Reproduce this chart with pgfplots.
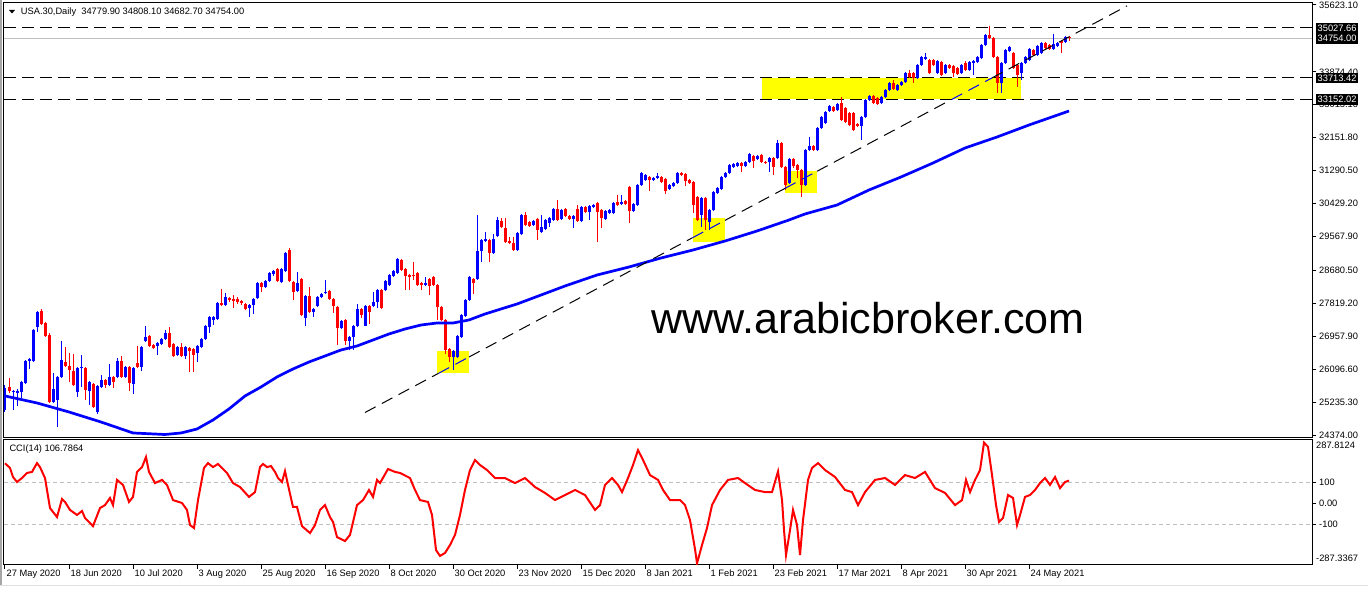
\documentclass[border=0pt]{standalone}
\usepackage{pgfplots}
\pgfplotsset{compat=1.18}
\usepackage{pgfplotstable}
\usepackage{fontspec}
\setmainfont{Liberation Sans}
\definecolor{mtblue}{RGB}{0,0,255}
\definecolor{mtred}{RGB}{255,0,0}
\definecolor{mtyellow}{RGB}{255,255,0}
\definecolor{bidgray}{RGB}{192,192,192}
\newcommand{\mtfont}{\fontsize{9.3}{11}\selectfont}

% daily candles: bar index, open, high, low, close
\pgfplotstableread{
i o h l c
0 25028 25682 24976 25604
1 25630 25866 25473 25526
2 25499 25552 25028 25526
3 25473 25578 25133 25526
4 25499 25787 25342 25761
5 25735 26336 25709 26310
6 26310 26389 26101 26362
7 26310 27147 26284 27121
8 27200 27618 27069 27592
9 27618 27670 27252 27278
10 27304 27330 26938 26964
11 26990 27043 25212 25238
12 25238 25996 25212 25578
13 25290 25918 24584 25892
14 25892 26833 25866 26336
15 26284 26676 26153 26179
16 26179 26519 25761 26075
17 26049 26493 25656 25682
18 25499 26153 25369 26127
19 26127 26467 25630 26153
20 26127 26153 25290 25552
21 25526 25787 25159 25761
22 25709 25735 25081 25107
23 24976 25682 24924 25656
24 25630 25944 25604 25813
25 25813 25839 25604 25682
26 25682 26232 25656 25892
27 25892 25918 25604 25761
28 25892 26389 25866 26310
29 26310 26441 25866 25892
30 25892 26179 25866 26153
31 26153 26179 25526 25735
32 25709 26153 25447 26127
33 26258 26703 26127 26153
34 26153 26703 26049 26676
35 26833 27226 26807 26938
36 26964 26990 26676 26703
37 26729 26755 26624 26650
38 26703 26807 26467 26781
39 26755 26912 26729 26886
40 26886 27121 26860 27043
41 27043 27200 26650 26676
42 26755 26781 26415 26441
43 26467 26703 26441 26676
44 26676 26781 26415 26441
45 26441 26703 26362 26676
46 26650 26676 26022 26572
47 26624 26650 26022 26467
48 26519 26729 26284 26703
49 26676 26912 26650 26886
50 26886 27252 26860 27226
51 27200 27487 27043 27461
52 27383 27487 27252 27461
53 27409 27854 27383 27827
54 27827 28194 27749 27775
55 27775 28089 27749 27984
56 27958 27984 27854 27906
57 27932 28037 27697 27880
58 27932 27984 27801 27854
59 27880 27906 27775 27827
60 27801 27827 27644 27670
61 27697 27801 27461 27775
62 27775 27958 27540 27932
63 27958 28377 27932 28351
64 28351 28377 28115 28246
65 28246 28429 28220 28403
66 28403 28638 28377 28612
67 28586 28691 28534 28665
68 28717 28743 28377 28403
69 28377 28743 28351 28717
70 28665 29162 28638 29135
71 29214 29266 28377 28403
72 28377 28403 27906 28115
73 28141 28638 28115 28351
74 28455 28481 27487 27514
75 27435 28037 27226 28011
76 28011 28246 27566 27592
77 27592 27697 27461 27670
78 27749 28011 27723 27984
79 27984 28089 27958 28063
80 28089 28429 28063 28115
81 28141 28168 27906 27932
82 27932 27958 27566 27749
83 27723 27749 26729 27173
84 27173 27383 27147 27357
85 27383 27409 26729 26833
86 26833 26964 26598 26938
87 26938 27252 26598 27226
88 27226 27801 27200 27670
89 27670 27697 27435 27514
90 27226 27775 27226 27749
91 27749 27775 27278 27592
92 27749 28115 27723 27854
93 27854 28194 27697 28168
94 28168 28194 27670 27697
95 28168 28429 28141 28403
96 28298 28586 28272 28560
97 28534 28691 28508 28665
98 28612 29005 28586 28978
99 28952 28978 28665 28691
100 28717 28743 28168 28534
101 28560 28586 28168 28508
102 28560 28900 28429 28534
103 28612 28638 28272 28298
104 28351 28377 28168 28298
105 28298 28508 28272 28351
106 28455 28481 28037 28272
107 28508 28534 28272 28298
108 28298 28324 27383 27723
109 27723 27749 27357 27383
110 27383 27409 26493 26598
111 26624 26650 26284 26415
112 26415 26598 26075 26572
113 26415 26990 26389 26964
114 26938 27540 26912 27514
115 27487 27932 27461 27906
116 27906 28534 27880 28508
117 28455 28481 28063 28351
118 28455 30130 28429 29188
119 29188 29502 28900 29476
120 29449 29685 29423 29502
121 29476 29502 28900 29135
122 29135 29633 29109 29502
123 29580 30077 29554 29999
124 29973 30051 29789 29816
125 29789 30051 29397 29423
126 29449 29554 29371 29397
127 29397 29554 29188 29214
128 29214 29685 29188 29659
129 29633 30156 29606 30130
130 30130 30208 29842 29868
131 29946 29973 29816 29842
132 29868 29999 29842 29973
133 30025 30051 29476 29737
134 29685 30130 29659 29816
135 29763 30025 29737 29999
136 29920 30077 29816 30051
137 29999 30313 29973 30287
138 30287 30522 29973 29999
139 30025 30287 29999 30260
140 30287 30313 30077 30103
141 30103 30130 29999 30025
142 30025 30130 29789 30103
143 30287 30391 29946 29973
144 29973 30365 29946 30339
145 30339 30365 30182 30208
146 30208 30391 29999 30365
147 30339 30417 30313 30391
148 30443 30470 29423 30208
149 30260 30287 29789 30051
150 30025 30260 29999 30234
151 30182 30287 30156 30260
152 30182 30470 30156 30443
153 30470 30653 30365 30391
154 30417 30653 30391 30470
155 30496 30522 30391 30417
156 30862 30888 29920 30234
157 30234 30443 30208 30417
158 30391 30941 30365 30914
159 30914 31255 30888 31228
160 31045 31202 31019 31176
161 31124 31150 30757 31045
162 31045 31124 31019 31098
163 31098 31228 31071 31150
164 31124 31150 30967 30993
165 31071 31098 30679 30757
166 30810 30941 30784 30914
167 30888 30993 30862 30967
168 30967 31255 30941 31228
169 31228 31255 31150 31176
170 31202 31228 30888 31019
171 31045 31071 30941 30967
172 30993 31019 30182 30391
173 30600 30627 29973 29999
174 30130 30600 29816 30574
175 30574 30600 29737 29999
176 29946 30287 29737 30260
177 30260 30757 30234 30731
178 30705 30862 30679 30836
179 30810 31150 30784 31124
180 31124 31255 31098 31228
181 31228 31464 31202 31438
182 31385 31490 31359 31464
183 31411 31516 31385 31490
184 31490 31516 31255 31411
185 31411 31542 31385 31516
186 31516 31752 31490 31725
187 31673 31699 31359 31542
188 31595 31699 31568 31673
189 31699 31725 31490 31516
190 31516 31542 31464 31490
191 31516 31647 31255 31621
192 31621 31647 31176 31385
193 31621 32092 31595 32013
194 32013 32039 31359 31385
195 31385 31411 30784 30914
196 30967 31621 30941 31595
197 31595 31621 31359 31411
198 31438 31464 31098 31307
199 31307 31333 30600 30914
200 30914 31856 30888 31830
201 31830 32170 31804 31935
202 31935 31961 31804 31830
203 31830 32432 31804 32406
204 32406 32719 32379 32693
205 32536 32850 32510 32824
206 32850 33007 32824 32981
207 32955 32981 32824 32850
208 32876 33059 32850 33033
209 33059 33216 32589 32615
210 32929 32955 32536 32562
211 32798 32824 32458 32484
212 32798 32824 32327 32353
213 32510 32536 32432 32458
214 32458 32719 32092 32693
215 32693 33164 32667 33138
216 33138 33269 33112 33243
217 33243 33269 33033 33059
218 33190 33216 33007 33033
219 33059 33243 33033 33216
220 33216 33426 33190 33400
221 33400 33609 33373 33583
222 33583 33661 33400 33426
223 33400 33557 33373 33530
224 33530 33635 33504 33609
225 33609 33870 33583 33844
226 33844 33923 33714 33740
227 33844 33870 33583 33714
228 33714 34080 33687 34054
229 34054 34289 34027 34263
230 34211 34368 34184 34263
231 34184 34211 33818 33844
232 34184 34211 34027 34054
233 33844 34184 33818 34158
234 34132 34158 33766 33792
235 33844 34080 33818 34054
236 34054 34080 33949 33975
237 34027 34054 33740 33844
238 33975 34001 33792 33818
239 33844 34080 33818 34054
240 34106 34158 33897 33923
241 33923 34158 33897 34132
242 34106 34184 33792 34158
243 34132 34289 34106 34263
244 34237 34603 34211 34577
245 34577 34865 34551 34838
246 34838 35080 34734 34760
247 34760 34786 34237 34263
248 34263 34289 33321 33583
249 33583 34132 33321 34106
250 34106 34472 34080 34446
251 34420 34551 34394 34525
252 34368 34394 33949 33975
253 34054 34080 33478 33792
254 33844 34132 33661 34106
255 34106 34289 34080 34263
256 34184 34498 34158 34472
257 34446 34472 34289 34315
258 34315 34577 34289 34551
259 34368 34655 34341 34629
260 34629 34655 34472 34498
261 34577 34603 34446 34472
262 34472 34865 34446 34603
263 34551 34655 34525 34629
264 34681 34708 34368 34629
265 34655 34812 34629 34786
266 34779.9 34808.1 34682.7 34754
}\candles

\pgfplotsset{
  candle/.style={draw=none, mark=none, forget plot},
}

\begin{document}
\begin{tikzpicture}[x=1pt,y=1pt]
\path[use as bounding box] (0,0) rectangle (1368,-596);
\fill[white] (0,0) rectangle (1368,-596);
\draw[gray!70, line width=1.5pt] (1,0) -- (1,-585);
\draw[gray!25, line width=1pt] (0,-585.5) -- (1368,-585.5);

% price panel
\begin{axis}[
  at={(4pt,-3pt)}, anchor=north west,
  scale only axis, width=1308pt, height=434pt,
  xmin=-0.25, xmax=326.75, ymin=24321.7, ymax=35675.4,
  clip mode=individual,
  axis line style={line width=1pt},
  xtick=\empty,
  ytick={35623.1,33874.4,33013.1,32151.8,31290.5,30429.2,29567.9,28680.5,27819.2,26957.9,26096.6,25235.3,24374},
  yticklabels={35623.10,33874.40,33013.10,32151.80,31290.50,30429.20,29567.90,28680.50,27819.20,26957.90,26096.60,25235.30,24374.00},
  ytick pos=right, yticklabel pos=right,
  tick align=outside, major tick length=4pt,
  tick style={black, line width=1pt},
  yticklabel style={font=\mtfont, inner sep=0pt, xshift=3pt},
]
% yellow zones
\addplot[fill=mtyellow, draw=none] coordinates {(107.9,25989) (116,25989) (116,26580) (107.9,26580)};
\addplot[fill=mtyellow, draw=none] coordinates {(171.9,29431) (180,29431) (180,30043) (171.9,30043)};
\addplot[fill=mtyellow, draw=none] coordinates {(195,30697) (203,30697) (203,31288) (195,31288)};
\addplot[fill=mtyellow, draw=none] coordinates {(189.25,33152.02) (254,33152.02) (254,33713.42) (189.25,33713.42)};
% level lines
\addplot[black, line width=1pt, dash pattern=on 12pt off 6pt] coordinates {(-0.25,35027.66) (326.75,35027.66)};
\addplot[black, line width=1pt, dash pattern=on 12pt off 6pt] coordinates {(-0.25,33713.42) (326.75,33713.42)};
\addplot[black, line width=1pt, dash pattern=on 12pt off 6pt] coordinates {(-0.25,33152.02) (326.75,33152.02)};
\addplot[bidgray, line width=1pt] coordinates {(-0.25,34754) (326.75,34754)};
% candles: up in blue, down in red
\addplot[candle,
  restrict expr to domain={\thisrow{c}-\thisrow{o}}{0:100000},
  error bars/.cd, y dir=plus, y explicit, error mark=none,
  error bar style={draw=mtblue, line width=1pt}]
  table[x=i, y=l, y error plus expr=\thisrow{h}-\thisrow{l}] {\candles};
\addplot[candle,
  restrict expr to domain={\thisrow{c}-\thisrow{o}}{0:100000},
  error bars/.cd, y dir=plus, y explicit, error mark=none,
  error bar style={draw=mtblue, line width=3pt}]
  table[x=i, y=o, y error plus expr=\thisrow{c}-\thisrow{o}] {\candles};
\addplot[candle,
  restrict expr to domain={\thisrow{c}-\thisrow{o}}{-100000:-0.01},
  error bars/.cd, y dir=plus, y explicit, error mark=none,
  error bar style={draw=mtred, line width=1pt}]
  table[x=i, y=l, y error plus expr=\thisrow{h}-\thisrow{l}] {\candles};
\addplot[candle,
  restrict expr to domain={\thisrow{c}-\thisrow{o}}{-100000:-0.01},
  error bars/.cd, y dir=plus, y explicit, error mark=none,
  error bar style={draw=mtred, line width=3pt}]
  table[x=i, y=c, y error plus expr=\thisrow{o}-\thisrow{c}] {\candles};
% moving average
\addplot[mtblue, line width=2.7pt] coordinates {
(0,25395) (8,25212) (16,24976) (24,24714) (32,24427) (40,24387) (44,24427)
(48,24531) (52,24767) (56,25055) (60,25395) (64,25630) (68,25892) (72,26101)
(76,26284) (80,26441) (84,26598) (88,26703) (92,26860) (96,27017) (100,27147)
(104,27252) (108,27304) (112,27304) (116,27383) (120,27540) (124,27671)
(128,27801) (132,27958) (140,28272) (148,28560) (156,28769) (164,29005)
(172,29214) (180,29449) (188,29711) (196,29999) (200,30156) (208,30391)
(216,30784) (224,31124) (232,31490) (240,31882) (248,32170) (256,32484)
(266,32850)};
% trend line, blue where it crosses the yellow zones
\addplot[black, line width=1pt, dash pattern=on 12pt off 7pt] coordinates {(90,24963) (108.4,25989)};
\addplot[black, line width=1pt, dash pattern=on 12pt off 7pt] coordinates {(116,26415) (171.9,29536)};
\addplot[black, line width=1pt, dash pattern=on 12pt off 7pt] coordinates {(180,29989) (195,30826)};
\addplot[black, line width=1pt, dash pattern=on 12pt off 7pt] coordinates {(203,31273) (236.65,33152)};
\addplot[black, line width=1pt, dash pattern=on 12pt off 7pt] coordinates {(246.7,33713) (280.5,35600)};
\addplot[mtblue, line width=1pt, dash pattern=on 12pt off 7pt] coordinates {(108.4,25989) (116,26415)};
\addplot[mtblue, line width=1pt, dash pattern=on 12pt off 7pt] coordinates {(171.9,29536) (180,29989)};
\addplot[mtblue, line width=1pt, dash pattern=on 12pt off 7pt] coordinates {(195,30826) (203,31273)};
\addplot[mtblue, line width=1pt, dash pattern=on 12pt off 7pt] coordinates {(236.65,33152) (246.7,33713)};
\end{axis}

% CCI panel
\begin{axis}[
  at={(4pt,-439pt)}, anchor=north west,
  scale only axis, width=1308pt, height=126pt,
  xmin=-0.25, xmax=326.75, ymin=-295.2, ymax=304.8,
  axis line style={line width=1pt},
  xtick={0,16,...,256},
  xticklabels={27 May 2020,18 Jun 2020,10 Jul 2020,3 Aug 2020,25 Aug 2020,16 Sep 2020,8 Oct 2020,30 Oct 2020,23 Nov 2020,15 Dec 2020,8 Jan 2021,1 Feb 2021,23 Feb 2021,17 Mar 2021,8 Apr 2021,30 Apr 2021,24 May 2021},
  xtick pos=left, xticklabel pos=left,
  ytick={100,0,-100}, yticklabels={100,0.00,-100},
  ytick pos=right, yticklabel pos=right,
  tick align=outside, major tick length=4pt,
  tick style={black, line width=1pt},
  yticklabel style={font=\mtfont, inner sep=0pt, xshift=3pt},
  xticklabel style={font=\mtfont, anchor=north west, inner xsep=1.5pt, inner ysep=1pt},
]
\addplot[bidgray, line width=1pt, dash pattern=on 4pt off 3pt] coordinates {(-0.25,100) (326.75,100)};
\addplot[bidgray, line width=1pt, dash pattern=on 4pt off 3pt] coordinates {(-0.25,-100) (326.75,-100)};
\addplot[mtred, line width=2pt] coordinates {
(0,189) (1.25,167) (2,124) (3,100) (4.25,119) (5.5,143) (6.75,148) (8,190)
(8.75,171) (10,119) (11.25,-24) (13,-67) (14.25,19) (15,5) (16.25,-33) (18,-57)
(19.25,-38) (20,-71) (22,-110) (23.75,-24) (25,-10) (26.25,24) (27,-10) (28,110)
(29.5,86) (31,5) (32,29) (33,148) (34.25,171) (35.25,219) (36,148) (37.5,95)
(39.25,110) (40.5,86) (42,14) (44.25,0) (45.5,-33) (46.25,-105) (47.25,-119)
(48.25,14) (49.75,167) (50.75,190) (52,171) (53.25,186) (55.5,143) (57,95)
(58.75,76) (61,29) (62.5,52) (63.75,171) (64.5,186) (65.5,171) (66.5,176)
(67.5,148) (68.25,119) (69.25,100) (70,152) (70.75,86) (72,-19) (73,-19)
(74.25,-110) (76.25,-143) (77.5,-105) (78.75,-33) (80,-10) (81.25,-67) (82,-90)
(83,-162) (85,-181) (86.25,-152) (88,-10) (89.5,14) (91,62) (92,29) (93,110)
(93.75,95) (95.75,162) (97.5,148) (98.75,143) (101.25,119) (102.5,62)
(103.75,14) (105.75,5) (106.75,-57) (107.75,-224) (108.75,-252) (110,-238)
(111.25,-200) (112.5,-152) (113.75,-57) (115,62) (116.25,157) (117.5,205)
(118.75,181) (120.5,157) (122.5,119) (125,119) (127.5,95) (130,119) (132.5,76)
(135,48) (137.5,14) (140,38) (142.5,62) (145,38) (147.5,-33) (148.75,-10)
(150,86) (151.75,119) (153.25,86) (154.25,52) (155.75,119) (157,181) (158.25,252)
(159.5,205) (161.25,133) (163.25,110) (164.5,62) (166.25,14) (168.75,14)
(170,-10) (171.25,-81) (172.5,-220) (173,-287) (174.25,-200) (175.5,-119)
(176.75,-10) (178.75,62) (180.75,110) (183.25,119) (185,95) (187.5,62) (190,52)
(191.75,52) (193.25,150) (194.25,14) (194.75,-129) (195.25,-248) (196.25,-129)
(197,-33) (198,-105) (198.75,-248) (199.5,-81) (200.75,110) (201.75,167)
(203.25,190) (205,157) (207.5,124) (210,62) (211.75,52) (213.25,-10) (215,52)
(217.5,110) (220,119) (222.5,86) (225,133) (227.5,119) (230,148) (232.5,71)
(235,48) (237.5,-10) (239.25,14) (240.25,110) (241.25,52) (242.5,110)
(243.75,157) (244.75,287.8) (245.75,267) (246.75,133) (247.75,-10) (248.5,-90)
(249.5,-71) (250.75,38) (252,24) (253,-105) (253.75,-57) (255,29) (256.25,38)
(257.5,62) (258.75,95) (260,119) (261.25,86) (262.5,124) (263.75,71) (265,100)
(266,106.79)};
\end{axis}

% texts and price tags
\fill[black] (9,-10) -- (15,-10) -- (12,-13.5) -- cycle;
\node[anchor=base west, inner sep=0pt, font=\mtfont] at (20.7,-15)
  {USA.30,Daily\ \ 34779.90 34808.10 34682.70 34754.00};
\node[anchor=base west, inner sep=0pt, font=\mtfont] at (9.3,-451.5) {CCI(14) 106.7864};
\node[anchor=base west, inner sep=0pt, font=\fontsize{43.1}{50}\selectfont] at (651,-333) {www.arabicbroker.com};
\tikzset{tag/.style={anchor=west, fill=black, text=white, font=\mtfont,
  inner xsep=1.5pt, inner ysep=1.6pt, text height=6.8pt, text depth=0.3pt}}
\node[tag] at (1316,-27.8) {35027.66};
\node[tag] at (1316,-38.4) {34754.00};
\node[tag] at (1316,-78.0) {33713.42};
\node[tag] at (1316,-99.5) {33152.02};
\node[anchor=west, inner sep=0pt, font=\mtfont] at (1316,-445) {287.8124};
\node[anchor=west, inner sep=0pt, font=\mtfont] at (1316,-558) {-287.3367};
\end{tikzpicture}
\end{document}
